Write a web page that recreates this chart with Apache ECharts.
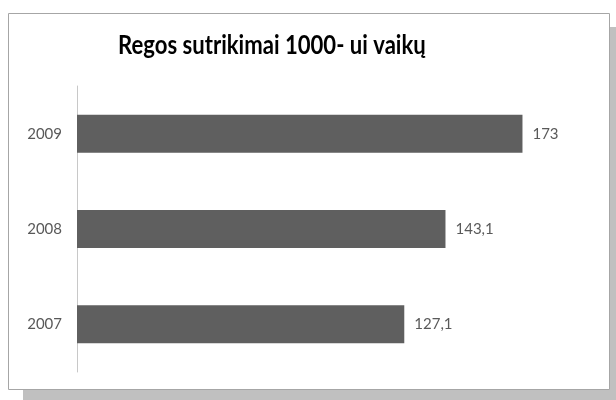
<!DOCTYPE html>
<html>
<head>
<meta charset="utf-8">
<script src="https://cdn.jsdelivr.net/npm/echarts@6/dist/echarts.min.js"></script>
<style>
  html, body { margin: 0; padding: 0; background: #fff; }
  #chart { width: 616px; height: 400px; }
</style>
</head>
<body>
<div id="chart"></div>
<script>
// metai ir reikšmės
var years = ['2007', '2008', '2009'];
var values = [127.1, 143.1, 173];
var chartTitle = 'Regos sutrikimai 1000- ui vaikų';

var myChart = echarts.init(document.getElementById('chart'));

var option = {
    animation: false,
    backgroundColor: '#fff',
    graphic: [
        // šešėlis
        {
            type: 'rect',
            z: -10,
            shape: { x: 23, y: 27, width: 593, height: 373 },
            style: { fill: '#c0c0c0' }
        },
        // rėmelis
        {
            type: 'rect',
            z: -9,
            shape: { x: 8.5, y: 13.5, width: 601, height: 376 },
            style: { fill: '#fff', stroke: '#a6a6a6', lineWidth: 1 }
        },
        // antraštė (siauresnė, kaip originale)
        {
            type: 'text',
            x: 118,
            y: 33,
            scaleX: 0.85,
            style: {
                x: 0,
                y: 0,
                text: chartTitle,
                font: 'bold 26px Lato',
                fill: '#000',
                verticalAlign: 'top'
            }
        }
    ],
    grid: {
        left: 77,
        top: 86,
        width: 515,
        height: 286
    },
    xAxis: {
        type: 'value',
        min: 0,
        max: 200,
        show: false,
        splitLine: { show: false }
    },
    yAxis: {
        type: 'category',
        data: years,
        axisLine: {
            show: true,
            lineStyle: { color: '#c8c8c8', width: 1 }
        },
        axisTick: { show: false },
        axisLabel: {
            margin: 15,
            color: '#595959',
            fontFamily: 'Lato',
            fontSize: 15
        }
    },
    series: [
        {
            type: 'bar',
            data: values,
            barWidth: 38,
            itemStyle: { color: '#5f5f5f' },
            label: {
                show: true,
                position: 'right',
                distance: 10,
                color: '#595959',
                fontFamily: 'Lato',
                fontSize: 15,
                formatter: function (p) {
                    return String(p.value).replace('.', ',');
                }
            }
        }
    ]
};

myChart.setOption(option);
</script>
</body>
</html>
